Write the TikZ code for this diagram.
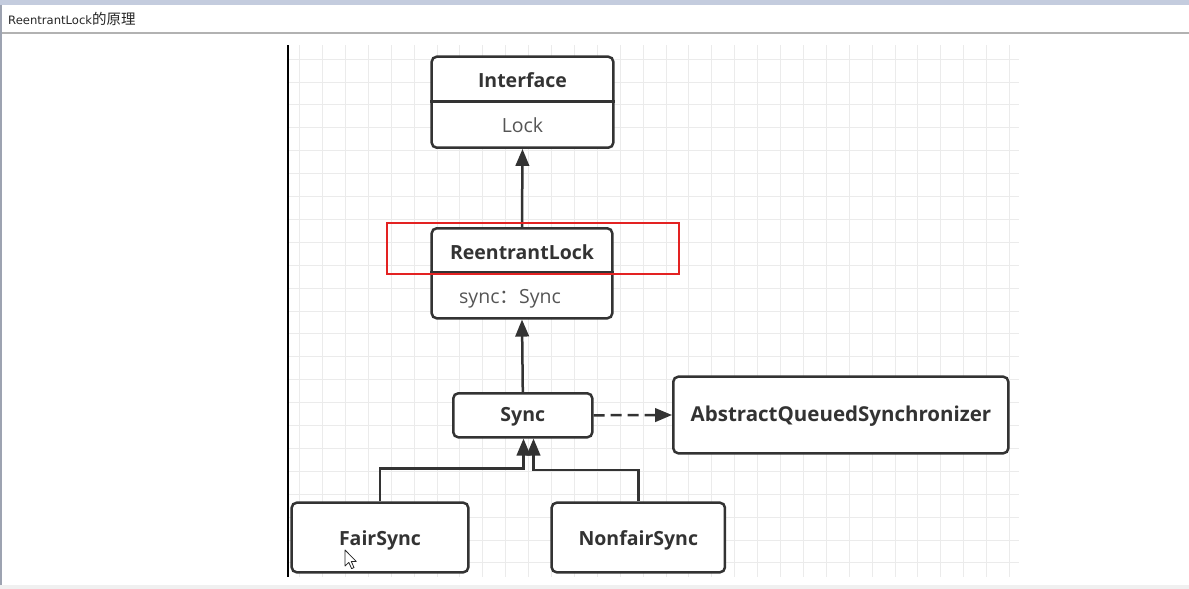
\documentclass[tikz,border=0pt]{standalone}
\usepackage{fontspec}
\setmainfont{Open Sans}
\newfontfamily\cjk{Noto Sans CJK SC}
\newfontfamily\titlefont{DejaVu Sans}
\usetikzlibrary{arrows.meta}
\definecolor{boxline}{HTML}{333333}
\definecolor{txtdark}{HTML}{333333}
\definecolor{txtgray}{HTML}{555555}
\definecolor{gridc}{HTML}{EBEBEB}
\definecolor{topbar}{HTML}{C4CCDE}
\definecolor{redbox}{HTML}{E32222}
\tikzset{
  umlbox/.style={draw=boxline, line width=2.5pt, rounded corners=5pt, fill=white, inner sep=0pt},
  boldlbl/.style={font=\fontsize{19.5}{22}\selectfont\bfseries, text=txtdark, inner sep=0pt, text height=13.8pt, text depth=0pt},
  reglbl/.style={font=\fontsize{19.5}{22}\selectfont, text=txtgray, inner sep=0pt, text height=13.8pt, text depth=0pt},
  inherit/.style={draw=boxline, line width=2.5pt, -{Triangle[length=17pt,width=13.5pt]}},
  depend/.style={draw=boxline, line width=2.5pt, dash pattern=on 11pt off 6pt, -{Triangle[length=17pt,width=13.5pt]}},
  divider/.style={draw=boxline, line width=2.5pt},
  gridline/.style={draw=gridc, line width=0.7pt}
}
\begin{document}
\begin{tikzpicture}[x=1pt,y=-1pt]
% canvas
\fill[white] (0,0) rectangle (1189,589);
\useasboundingbox (0,0) rectangle (1189,589);
\fill[topbar] (0,0) rectangle (1189,4.5);
\draw[gray!60, line width=1.5pt] (0,33) -- (1189,33);
\fill[gray!12] (0,585) rectangle (1189,589);
\draw[topbar!80!black, line width=2pt] (1,4.5) -- (1,585);
\node[anchor=west, inner sep=0pt, text=black!85] (title) at (8,19)
  {\titlefont\fontsize{11.6}{13}\selectfont ReentrantLock{\cjk\fontsize{14.5}{14}\selectfont 的原理}};
% grid
\foreach \k in {0,...,31} { \draw[gridline] ({299.5+22.9*\k},45) -- ({299.5+22.9*\k},577); }
\foreach \k in {0,...,22} { \draw[gridline] (289,{59+22.9*\k}) -- (1019,{59+22.9*\k}); }
\draw[black, line width=1.5pt] (288,45) -- (288,577);
% boxes
\node[umlbox, minimum width=181.6pt, minimum height=91pt] (intf) at (522.5,102.2) {};
\draw[divider] (intf.west |- 0,101.7) -- (intf.east |- 0,101.7);
\node[boldlbl] (intfT) at (522.5,80.7) {Interface};
\node[reglbl] (intfB) at (522.5,125.5) {Lock};

\node[umlbox, minimum width=180.6pt, minimum height=90pt] (rl) at (522,273.3) {};
\draw[divider] (rl.west |- 0,272.3) -- (rl.east |- 0,272.3);
\node[boldlbl] (rlT) at (522,252.7) {ReentrantLock};
\node[reglbl] (rlB) at (510,297) {sync{\cjk ：}Sync};

\node[umlbox, minimum width=139pt, minimum height=44pt] (sync) at (522.8,415.3) {};
\node[boldlbl] (syncT) at (522.8,415) {Sync};
\node[umlbox, minimum width=335pt, minimum height=76.6pt] (aqs) at (840.8,415) {};
\node[boldlbl, font=\fontsize{20.5}{22}\selectfont\bfseries] (aqsT) at (841,415) {AbstractQueuedSynchronizer};
\node[umlbox, minimum width=176.6pt, minimum height=69.6pt] (fair) at (380,537.5) {};
\node[boldlbl] (fairT) at (380,538.5) {FairSync};
\node[umlbox, minimum width=173.3pt, minimum height=69.6pt] (nf) at (638.3,537.5) {};
\node[boldlbl] (nfT) at (638.3,538.5) {NonfairSync};
% connectors
\draw[inherit] (rl.north) -- (intf.south);
\draw[inherit] (sync.north) -- (rl.south);
\draw[depend] (sync.east) -- (aqs.west);
\coordinate (fj) at (523.5,468.3);
\coordinate (nj) at (533.5,470);
\draw[inherit] (fair.north) |- (fj) -- (fj |- sync.south);
\draw[inherit] (nf.north) |- (nj) -- (nj |- sync.south);
% highlight
\draw[redbox, line width=2pt] (386.7,223.3) rectangle (679,274);
% mouse cursor
\draw[fill=white, draw=black!85, line width=0.8pt, line join=round]
  (345,550) -- (345,566) -- (348.8,562.4) -- (351.6,568.6) -- (354,567.6) -- (351.3,561.4) -- (356.2,561.4) -- cycle;
\end{tikzpicture}
\end{document}
